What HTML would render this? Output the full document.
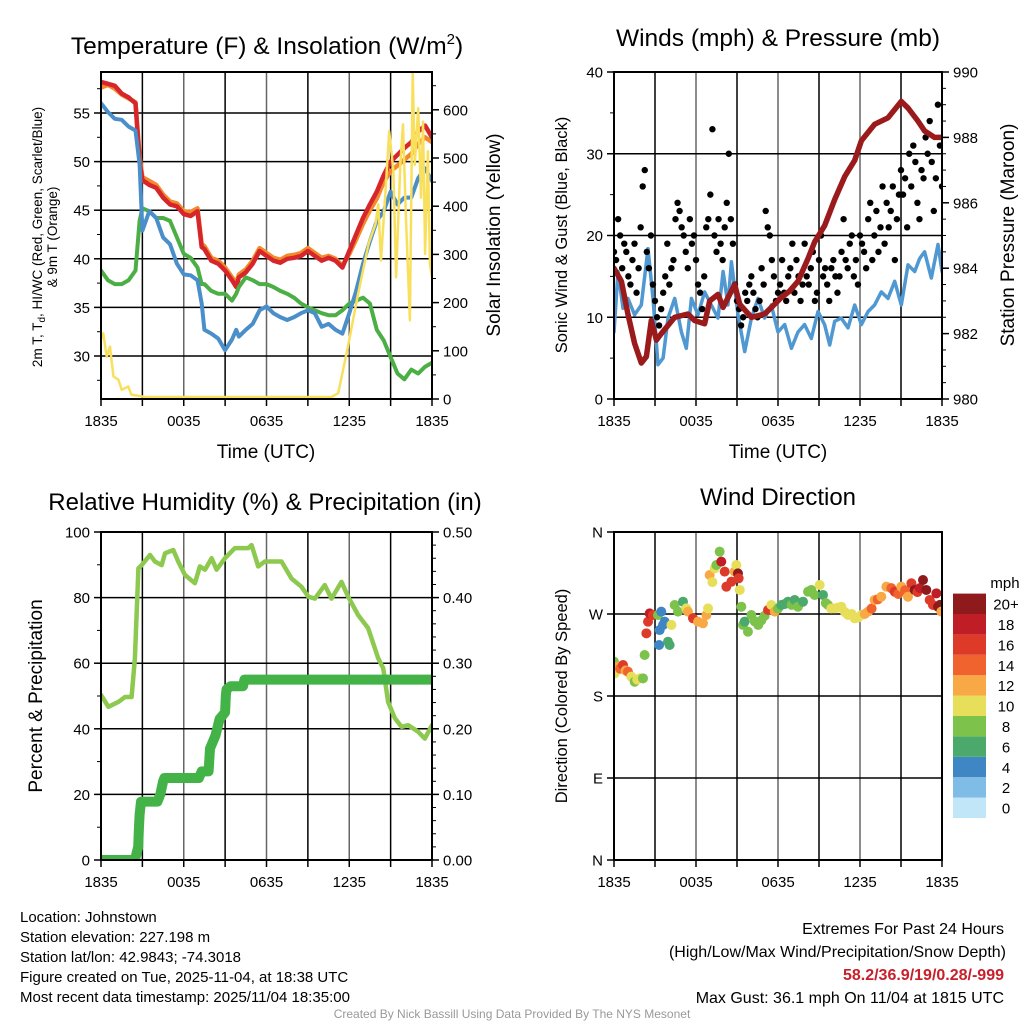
<!DOCTYPE html>
<html><head><meta charset="utf-8"><style>
html,body{margin:0;padding:0;background:#fff;}
svg{display:block;font-family:"Liberation Sans",sans-serif;}
</style></head><body>
<svg id="s" width="1024" height="1024" viewBox="0 0 1024 1024" xmlns="http://www.w3.org/2000/svg">
<defs>
<clipPath id="c1"><rect x="101" y="72" width="331" height="327"/></clipPath>
<clipPath id="c2"><rect x="614" y="72" width="328" height="327"/></clipPath>
<clipPath id="c3"><rect x="101" y="532" width="331" height="328"/></clipPath>
<clipPath id="c4"><rect x="614" y="532" width="328" height="328"/></clipPath>
</defs>
<g><text x="267" y="54" font-size="24.5" text-anchor="middle">Temperature (F) &amp; Insolation (W/m<tspan font-size="15" dy="-10">2</tspan><tspan dy="10">)</tspan></text></g>
<text x="778" y="46" font-size="24.5" text-anchor="middle">Winds (mph) &amp; Pressure (mb)</text>
<text x="265" y="510" font-size="24" text-anchor="middle">Relative Humidity (%) &amp; Precipitation (in)</text>
<text x="778" y="505" font-size="24" text-anchor="middle">Wind Direction</text>
<text x="266" y="458" font-size="19" text-anchor="middle">Time (UTC)</text>
<text x="778" y="458" font-size="19" text-anchor="middle">Time (UTC)</text>
<g font-size="13.5" text-anchor="middle">
<text transform="translate(42,237) rotate(-90)">2m T, T<tspan font-size="10" dy="3">d</tspan><tspan dy="-3">, HI/WC (Red, Green, Scarlet/Blue)</tspan></text>
<text transform="translate(57,237) rotate(-90)">&amp; 9m T (Orange)</text>
</g>
<text transform="translate(500,235) rotate(-90)" font-size="19" text-anchor="middle">Solar Insolation (Yellow)</text>
<text transform="translate(567,235) rotate(-90)" font-size="16.5" text-anchor="middle">Sonic Wind &amp; Gust (Blue, Black)</text>
<text transform="translate(1014,235) rotate(-90)" font-size="19" text-anchor="middle">Station Pressure (Maroon)</text>
<text transform="translate(42,696) rotate(-90)" font-size="19" text-anchor="middle">Percent &amp; Precipitation</text>
<text transform="translate(567,696) rotate(-90)" font-size="16.5" text-anchor="middle">Direction (Colored By Speed)</text>
<g font-size="15">
<text x="20" y="922">Location: Johnstown</text>
<text x="20" y="942">Station elevation: 227.198 m</text>
<text x="20" y="962">Station lat/lon: 42.9843; -74.3018</text>
<text x="20" y="982">Figure created on Tue, 2025-11-04, at 18:38 UTC</text>
<text x="20" y="1002">Most recent data timestamp: 2025/11/04 18:35:00</text>
</g>
<g font-size="16" text-anchor="end">
<text x="1004" y="934">Extremes For Past 24 Hours</text>
<text x="1006" y="957">(High/Low/Max Wind/Precipitation/Snow Depth)</text>
<text x="1004" y="980" fill="#c8202a" font-weight="bold">58.2/36.9/19/0.28/-999</text>
<text x="1004" y="1003">Max Gust: 36.1 mph On 11/04 at 1815 UTC</text>
</g>
<text x="512" y="1018" font-size="12" fill="#999" text-anchor="middle">Created By Nick Bassill Using Data Provided By The NYS Mesonet</text>
<g id="g"></g>
</svg>
<script>
// ---- data (time in hours since 1835 UTC) ----
const xTickLabels = ["1835","0035","0635","1235","1835"];
const tempTicks = [30,35,40,45,50,55];
const solarTicks = [0,100,200,300,400,500,600];
const windTicks = [0,10,20,30,40];
const presTicks = [980,982,984,986,988,990];
const rhTicks = [0,20,40,60,80,100];
const precipTicks = ["0.00","0.10","0.20","0.30","0.40","0.50"];
const dirTickLabels = ["N","E","S","W","N"];
const speedBins = ["0","2","4","6","8","10","12","14","16","18","20+"];
const speedColors = ["#c1e6f8","#80bde6","#3f86c5","#4aa96b","#7cc24b","#e7df5a","#f8a945","#f1632e","#de3a2a","#c01e26","#8e1a1c"];

const tempT = [0,0.5,1,1.5,2,2.5,2.8,3,3.5,4,4.5,5,5.5,6,6.5,7,7.3,7.5,8,8.5,9,9.5,9.8,10,10.5,11,11.5,12,12.5,13,13.5,14,14.5,15,15.5,16,16.5,17,17.5,18,18.5,19,19.5,20,20.5,21,21.5,22,22.5,23,23.5,24];
const tempRed = [58.2,58,57.8,57,56.6,56,50,48.1,47.6,47.3,46.3,45.6,45.4,44.6,44.4,44.9,41.2,41,39.8,39.5,38.8,37.8,37.1,38.1,38.6,39.5,40.8,40.3,39.8,39.6,40,40.1,40.3,40.8,40.3,39.8,40.1,39.8,39.1,40.8,42.5,44.2,45.6,46.9,48.6,50,50.7,51.4,52,53.1,53.7,52.5];
const temp9m = [57.6,57.9,57.5,56.9,56.5,56.1,50.5,48.4,48,47.6,46.6,45.9,45.7,44.9,44.8,45.2,41.5,41.3,40.1,39.8,39.1,38.1,37.5,38.4,38.9,39.8,41.1,40.6,40.1,39.9,40.3,40.4,40.6,41.1,40.6,40.1,40.3,40,39.3,40.5,42,43.6,45,46.2,47.9,49,49.6,50.2,50.8,51.8,52.5,52];
const tempBlue = [56,55.1,54.4,54.3,53.6,53.2,49.7,42.9,44.9,44.2,42.2,41.5,39.5,38.4,38.3,37.8,35.4,32.7,32.3,31.8,30.6,31.7,32.7,32,32.7,33.3,34.7,35.1,34.4,34,33.7,34,34.4,34.7,34.4,33,33.3,32.7,32.3,34.4,36.7,39.5,41.8,43.9,44.9,46.9,45.6,46.3,46.3,48.3,49.3,48];
const tempGreen = [38.8,37.8,37.4,37.4,37.8,38.8,43.9,45.2,44.9,44.2,44.2,43.9,42.2,40.5,40.1,39.1,37.4,37.4,36.7,36.4,36.4,35.7,36.4,37.1,38.1,37.8,37.4,37.4,37.1,36.7,36.4,36,35.4,35,34.7,34.4,34.2,34.2,34.7,35.4,35.7,36,35.4,32.7,31.6,29.9,28.2,27.6,28.6,28.2,28.9,29.3];
const solarT = [0,0.17,0.41,0.65,0.9,1.26,1.5,1.98,2.2,3.2,16.7,17.2,17.9,18.6,19.4,19.9,20.1,20.3,20.6,20.9,21.2,21.4,21.7,21.9,22.1,22.4,22.6,22.75,23,23.2,23.35,23.5,23.7,23.85,24];
const solarV = [120,133,84,105,43,36,15,22,5,0,0,8,105,209,320,361,402,285,416,555,472,250,485,569,382,160,679,485,603,416,575,299,513,278,250];

const presT = [0,0.54,1.02,1.51,2,2.37,2.73,3.1,3.46,4.44,5.41,5.9,6.63,7,7.61,7.98,8.83,9.2,10.05,11.02,11.76,12.24,12.85,13.46,14.2,14.68,15.41,16.15,16.88,17.61,18.1,19.07,20.05,21.02,21.51,22.24,22.73,23.46,24];
const presV = [984.0,983.6,982.6,981.7,981.1,981.3,982.4,981.8,982.0,982.5,982.6,982.4,982.3,983.0,983.2,982.8,983.5,982.9,982.5,982.6,982.9,983.1,983.3,983.6,984.3,984.8,985.3,986.1,986.8,987.3,987.9,988.4,988.6,989.1,988.9,988.5,988.2,988.0,988.0];
const windT = [0,0.29,0.66,1.02,1.51,2,2.49,2.85,3.22,3.59,3.95,4.44,4.93,5.29,5.66,6.15,6.63,7.12,7.61,7.98,8.34,8.59,9.07,9.56,10.05,10.54,11.02,11.51,12,12.49,12.98,13.46,13.95,14.44,14.93,15.41,15.78,16.15,16.63,17.12,17.61,18.1,18.59,19.07,19.56,20.05,20.54,21.02,21.51,22,22.37,22.73,23.22,23.71,24];
const windV = [8.2,15.6,11.1,12.3,10.3,11.5,18.4,12.3,4.2,5,9.9,12.3,8.2,6.2,12.3,10.3,13.1,11.5,9.9,15.6,11.5,16.8,10.3,5.8,9.9,12.3,9.9,11.5,8.2,9.1,6.2,8.2,9.1,7.4,10.7,9.1,6.6,9.5,9.9,8.7,11.5,9.1,10.7,11.5,13.1,12.3,14.4,11.5,16.4,15.6,17.2,18,14.8,18.9,15.6];
const gustStep = 0.15;
const gustV = [18,17,22,20,16,19,18,15,14,17,19,13,16,21,26,28,18,16,20,14,12,
10,9,11,13,15,19,14,16,17,22,24,23,21,20,18,16,22,19,20,17,
14,13,11,15,21,22,25,33,20,18,22,19,17,21,24,30,22,19,14,12,
11,9,10,13,12,14,15,13,11,10,12,16,14,23,21,20,17,15,12,13,
14,17,13,12,15,16,19,13,17,15,12,14,19,15,14,16,18,12,13,17,
20,15,16,14,12,16,17,15,13,15,18,22,17,16,19,20,15,17,14,20,
19,18,16,22,24,17,20,23,18,21,26,19,24,21,23,26,17,22,25,
28,25,27,21,30,26,31,29,24,22,28,27,32,30,34,29,23,27,36,31,26];

const rhT = [0,0.54,1.26,1.74,2.22,2.46,2.71,2.95,3.55,3.91,4.4,4.64,5.24,5.6,6.09,6.81,7.17,7.54,8.02,8.38,8.99,9.71,10.68,10.92,11.4,11.88,13.09,13.82,14.54,15.03,15.51,16.23,16.71,17.44,17.92,18.64,19.37,20.1,20.46,20.82,21.31,21.79,22.28,23.0,23.48,24];
const rhV = [50.3,46.7,48.2,49.7,49.7,61.5,88.9,89.9,93,91,89.9,93.5,94.5,91,86.9,84.4,89.5,88.5,92,88.5,92,95.1,95.1,96,89.5,91,91,85.8,83.3,80.3,79.7,83.8,79.7,84.8,80.3,74.7,70.7,61.5,58.5,48.2,43.2,40.6,41.1,39.1,37,41.1];
const prT = [0,2.46,2.7,2.75,2.8,2.9,3.2,4.1,4.3,4.5,4.6,7.1,7.3,7.8,7.9,8.3,8.6,9.0,9.05,9.1,9.4,10.3,10.4,24];
const prV = [0,0,0.02,0.048,0.069,0.089,0.089,0.089,0.1,0.12,0.125,0.125,0.135,0.135,0.17,0.19,0.215,0.225,0.25,0.26,0.265,0.265,0.275,0.275];

const dirT = [0,0.05,0.29,0.45,0.66,0.85,1.02,1.27,1.51,1.7,1.88,2.12,2.24,2.37,2.49,2.61,2.85,3.22,3.46,3.59,3.34,3.71,3.3,3.95,4.07,4.2,4.44,4.68,5.05,5.29,5.41,5.78,6.15,6.51,6.76,6.88,7.0,7.2,7.37,7.49,7.73,7.85,8.1,8.22,8.59,8.83,8.95,9.07,9.12,9.2,9.32,9.44,9.56,9.8,10.05,10.29,10.55,10.78,11.02,11.27,11.51,11.76,12.0,12.24,12.5,12.73,13.0,13.22,13.46,13.83,14.2,14.44,14.68,15.05,15.29,15.5,15.66,15.9,16.15,16.4,16.63,16.9,17.12,17.4,17.61,17.85,18.1,18.35,18.59,18.85,19.07,19.3,19.56,19.93,20.29,20.54,20.8,21.02,21.3,21.51,21.76,22.0,22.2,22.37,22.61,22.85,23.1,23.34,23.59,23.71,23.85,23.95];
const dirV = [217.7,204.9,212.2,210,214,208,206.7,201.2,195.7,198,199.4,199.4,225,248.8,261.6,270.7,268.9,268.9,272.6,258,252.4,261.6,236,239.6,236,258,279.9,272.6,283.5,276.2,272.6,265.3,261.6,259.8,268.9,276.2,312.8,305,320.1,323.8,338.4,327.5,316.5,300,305.5,316.5,323.8,314.6,309.2,296.4,278,258,261.6,250.6,268.9,262,258,263,268,274.4,279.9,272.6,276,279.9,281,283.5,280,285.4,278,283.5,294.5,296.4,290.9,301.8,290.9,282,279.9,276,276.2,277,278,272,268.9,270,265.3,266,268.9,270,272.6,276,285.4,286,289,300,298.4,294.5,292,300,296,289,303.7,296.4,294,298.4,307.3,296.4,285.4,279.9,292.7,277.9,280,272.6];
const dirSpd = [8,10,12,14,16,12,14,10,8,10,10,8,8,16,17,18,17,8,4,4,4,4,4,6,6,10,8,8,6,10,13,17,13,13,12,10,13,10,10,8,8,18,17,17,17,13,10,20,17,10,8,8,6,8,8,8,8,8,8,16,10,12,8,6,6,6,8,6,8,6,8,8,8,10,6,8,8,10,10,10,10,10,10,10,10,10,10,12,12,14,13,14,13,13,14,16,14,13,14,13,16,20,17,18,20,20,17,17,18,20,20,13];

// ---- drawing ----
const G = document.getElementById('g');
const NS = 'http://www.w3.org/2000/svg';
function mk(tag, attrs, parent){ const e=document.createElementNS(NS,tag); for(const k in attrs) e.setAttribute(k,attrs[k]); (parent||G).appendChild(e); return e; }
const P = {
  temp:{x0:101,x1:432,y0:72,y1:399,clip:'c1'},
  wind:{x0:614,x1:942,y0:72,y1:399,clip:'c2'},
  rh:{x0:101,x1:432,y0:532,y1:860,clip:'c3'},
  dir:{x0:614,x1:942,y0:532,y1:860,clip:'c4'}
};
function xs(p,t){ return p.x0 + t/24*(p.x1-p.x0); }
const yTemp = v => 113 + (55-v)*9.72;
const ySolar = v => 399 - v*0.482;
const ySolarLine = v => 397 - v*0.479;
const yWind = v => 399 - v*8.175;
const yPres = v => 399 - (v-980)*32.7;
const yRH = v => 860 - v*3.28;
const yPr = v => 860 - v*656;
const yDir = v => 860 - v*328/360;

function frame(p, name, hGrid){
  const g = mk('g',{});
  
  
  for(let i=1;i<8;i++){ const x=xs(p,i*3); mk('line',{x1:x,x2:x,y1:p.y0,y2:p.y1,stroke:(i%2==0)?'#666':'#000','stroke-width':1.5},g); }
  hGrid.forEach(y=>mk('line',{x1:p.x0,x2:p.x1,y1:y,y2:y,stroke:'#000','stroke-width':1.5},g));
  return g;
}
function border(p,name){
  const r = mk('rect',{x:p.x0,y:p.y0,width:p.x1-p.x0,height:p.y1-p.y0,fill:'none',stroke:'#000','stroke-width':2});
  
  
  const g = mk('g',{'font-size':15,'text-anchor':'middle'});
  
  
  for(let i=0;i<=8;i++){ const x=xs(p,i*3); mk('line',{x1:x,x2:x,y1:p.y1,y2:p.y1+7,stroke:'#000','stroke-width':1.5},g); }
  xTickLabels.forEach((l,i)=>{ const t=mk('text',{x:xs(p,i*6),y:p.y1+27},g); t.textContent=l; });
}
function yAxis(p,name,vals,labels,yf,side,minorStep,minorRange){
  const g = mk('g',{'font-size':15,'text-anchor':side=='l'?'end':'start'});
  
  
  const x = side=='l'?p.x0:p.x1, d = side=='l'?-1:1;
  vals.forEach((v,i)=>{ const y=yf(v); mk('line',{x1:x,x2:x+d*7,y1:y,y2:y,stroke:'#000','stroke-width':1.5},g);
    const t=mk('text',{x:x+d*11,y:y+5.5},g); t.textContent=labels[i]; });
  if(minorStep){ for(let v=minorRange[0]; v<=minorRange[1]+1e-9; v+=minorStep){ const y=yf(v); if(y<p.y0-0.5||y>p.y1+0.5) continue; mk('line',{x1:x,x2:x+d*4,y1:y,y2:y,stroke:'#000','stroke-width':1},g);} }
}
function line(p,ts,vs,yf,color,w,name){
  const pts = ts.map((t,i)=>xs(p,t).toFixed(1)+','+yf(vs[i]).toFixed(1)).join(' ');
  const e = mk('polyline',{points:pts,fill:'none',stroke:color,'stroke-width':w,'stroke-linejoin':'round','stroke-linecap':'round','clip-path':'url(#'+p.clip+')'});
  
  
  return e;
}

// Panel 1: temperature
frame(P.temp,'temp',tempTicks.map(yTemp));
line(P.temp,tempT,temp9m,yTemp,'#f28a2c',4.5,'temp-9m-orange-line');
line(P.temp,tempT,tempRed,yTemp,'#d7262b',4.5,'temp-2m-red-line');
line(P.temp,tempT,tempGreen,yTemp,'#4caf45',4,'dewpoint-green-line');
line(P.temp,tempT,tempBlue,yTemp,'#4a8fca',4,'windchill-blue-line');
line(P.temp,solarT,solarV,ySolarLine,'#f9e05c',2.5,'solar-yellow-line');
border(P.temp,'temp');
yAxis(P.temp,'temp-left-axis',tempTicks,tempTicks.map(String),yTemp,'l',2.5,[25,57.5]);
yAxis(P.temp,'solar-right-axis',solarTicks,solarTicks.map(String),ySolar,'r',50,[0,650]);

// Panel 2: winds
frame(P.wind,'wind',[10,20,30].map(yWind));
line(P.wind,windT,windV,yWind,'#5098d2',3.5,'sonic-wind-line');
const gg = mk('g',{'clip-path':'url(#c2)'});


gustV.forEach((v,i)=>{ const c=mk('circle',{cx:xs(P.wind,i*gustStep),cy:yWind(v),r:3.2,fill:'#000'},gg);
  
   });
line(P.wind,presT,presV,yPres,'#9b1a1c',5.5,'pressure-maroon-line');
border(P.wind,'wind');
yAxis(P.wind,'wind-left-axis',windTicks,windTicks.map(String),yWind,'l',5,[0,40]);
yAxis(P.wind,'pressure-right-axis',presTicks,presTicks.map(String),yPres,'r',0.5,[980,990]);

// Panel 3: RH & precip
frame(P.rh,'rh',[20,40,60,80].map(yRH));
line(P.rh,rhT,rhV,yRH,'#8dc94f',4.5,'rh-line');
line(P.rh,prT,prV,yPr,'#44b347',10,'precip-line');
border(P.rh,'rh');
yAxis(P.rh,'rh-left-axis',rhTicks,rhTicks.map(String),yRH,'l',10,[0,100]);
yAxis(P.rh,'precip-right-axis',[0,0.1,0.2,0.3,0.4,0.5],precipTicks,yPr,'r',0.02,[0,0.5]);

// Panel 4: wind direction
frame(P.dir,'dir',[90,180,270].map(yDir));
const dg = mk('g',{'clip-path':'url(#c4)'});


dirT.forEach((t,i)=>{ const s=dirSpd[i]; const bi=Math.min(10,Math.floor(s/2));
  const c=mk('circle',{cx:xs(P.dir,t),cy:yDir(dirV[i]),r:5,fill:speedColors[bi]},dg);
  
   });
border(P.dir,'dir');
yAxis(P.dir,'direction-left-axis',[0,90,180,270,360],dirTickLabels,yDir,'l',0,null);

// colorbar
const cb = mk('g',{'font-size':15,'text-anchor':'middle'});


const ct = mk('text',{x:1005,y:588},cb); ct.textContent='mph';
speedBins.forEach((l,i)=>{ const y=818-(i+1)*20.4;
  mk('rect',{x:953,y:y,width:33,height:20.4,fill:speedColors[i]},cb);
  const t=mk('text',{x:1006,y:y+16},cb); t.textContent=l; });
</script>
</body></html>
